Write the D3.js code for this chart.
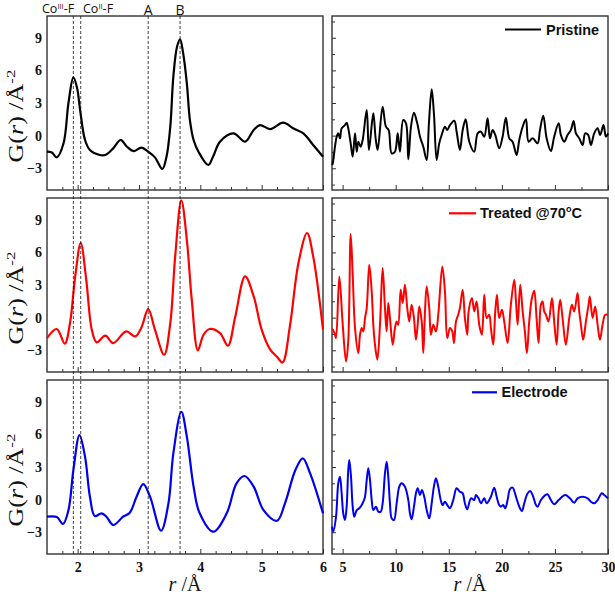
<!DOCTYPE html>
<html>
<head>
<meta charset="utf-8">
<script src="https://cdn.jsdelivr.net/npm/d3@7"></script>
<style>
  body { margin: 0; background: #fff; }
  svg { display: block; }
  .tick text { font-family: "Liberation Serif", "Times New Roman", serif; font-weight: bold; font-size: 14px; fill: #111; }
  .tick line { stroke: #333; stroke-width: 1; }
  .ax-title { font-family: "Liberation Serif", "Times New Roman", serif; font-size: 20px; fill: #111; }
  .legend { font-family: "Liberation Sans", Arial, sans-serif; font-weight: bold; font-size: 14.5px; fill: #111; }
  .marker { font-family: "Open Sans", "Noto Sans", sans-serif; fill: #111; }
</style>
</head>
<body>
<div id="chart"></div>
<script>
// ---- data: [r (Å), G(r)] ----
var pristineShort = [[1.50,-1.48],[1.58,-1.55],[1.66,-2.0],[1.77,-0.7],[1.85,3.0],[1.93,5.36],[1.99,4.4],[2.04,2.35],[2.12,-0.4],[2.20,-1.32],[2.36,-1.78],[2.45,-1.78],[2.58,-1.17],[2.70,-0.4],[2.80,-1.0],[2.91,-1.42],[3.04,-1.1],[3.15,-1.48],[3.26,-2.0],[3.38,-3.07],[3.45,-1.9],[3.51,0.82],[3.56,5.42],[3.62,8.17],[3.67,8.86],[3.72,7.57],[3.78,4.81],[3.83,1.43],[3.89,-0.4],[3.97,-1.48],[4.13,-2.7],[4.21,-1.9],[4.32,-0.56],[4.54,0.2],[4.73,-0.56],[4.87,0.52],[4.97,0.97],[5.14,0.6],[5.35,1.19],[5.52,0.65],[5.68,0.2],[5.84,-0.86],[6.0,-1.94]];

var treatedShort = [[1.50,-1.88],[1.66,-1.05],[1.79,-2.4],[1.875,-0.5],[1.96,3.79],[2.05,6.86],[2.14,3.48],[2.23,-1.11],[2.31,-2.28],[2.45,-1.66],[2.58,-2.34],[2.79,-1.27],[2.94,-1.73],[3.04,-0.9],[3.15,0.79],[3.26,-1.11],[3.41,-3.41],[3.51,-0.5],[3.59,5.63],[3.69,10.78],[3.78,7.16],[3.86,1.65],[3.96,-3.01],[4.05,-1.6],[4.15,-1.05],[4.32,-1.42],[4.45,-2.58],[4.57,0.11],[4.73,3.79],[4.87,1.95],[5.0,-1.11],[5.14,-2.95],[5.25,-3.6],[5.34,-4.12],[5.46,-0.81],[5.60,5.02],[5.74,7.78],[5.84,5.63],[6.0,-1.11]];

var electrodeShort = [[1.50,-1.57],[1.66,-1.6],[1.76,-2.24],[1.85,-0.96],[1.93,2.72],[2.03,5.94],[2.12,3.95],[2.20,0.27],[2.28,-1.51],[2.39,-1.26],[2.47,-1.57],[2.58,-2.34],[2.74,-1.57],[2.85,-1.2],[2.96,0.27],[3.07,1.43],[3.18,0.27],[3.36,-2.86],[3.48,-0.34],[3.56,4.26],[3.69,8.08],[3.78,5.79],[3.89,1.19],[3.99,-1.26],[4.21,-2.95],[4.43,-1.26],[4.59,1.5],[4.72,2.17],[4.87,1.19],[5.03,-0.96],[5.25,-1.94],[5.38,-0.34],[5.55,2.72],[5.67,3.8],[5.79,2.41],[6.0,-1.26]];

var pristineLong = [[4.0,-2.7],[4.07,-2.55],[4.28,-1.02],[4.44,-0.10],[4.59,0.21],[4.75,-0.25],[4.91,0.67],[5.22,0.97],[5.38,1.19],[5.53,0.67],[5.76,-0.71],[5.95,-1.94],[6.17,0.21],[6.33,-1.48],[6.48,-0.56],[6.70,-1.02],[6.89,-0.40],[7.27,2.35],[7.48,-1.32],[7.89,2.05],[8.11,-0.25],[8.30,-1.32],[8.77,2.66],[9.08,0.82],[9.34,0.51],[9.62,-1.63],[9.93,-1.48],[10.19,0.21],[10.40,-1.48],[10.71,1.43],[10.97,1.13],[11.19,-2.18],[11.44,0.82],[11.72,2.11],[12.03,1.13],[12.29,-0.10],[12.60,-1.02],[12.92,-2.24],[13.13,1.13],[13.39,4.26],[13.60,2.05],[13.86,-2.24],[14.10,-0.71],[14.33,0.06],[14.64,0.82],[14.86,0.51],[15.11,0.97],[15.52,1.37],[15.74,0.36],[16.05,-1.32],[16.31,0.51],[16.59,1.50],[16.93,-0.56],[17.40,-1.48],[17.72,0.21],[18.03,0.36],[18.34,-0.10],[18.66,1.59],[18.88,-0.25],[19.13,0.51],[19.38,0.06],[19.75,-1.17],[20.07,-0.10],[20.38,1.65],[20.70,-0.25],[21.01,-0.56],[21.39,-1.78],[21.64,-0.40],[21.96,0.82],[22.27,1.50],[22.52,-0.56],[22.90,-0.25],[23.37,-0.71],[23.59,0.51],[23.90,1.83],[24.22,-0.25],[24.62,-1.42],[24.93,-0.10],[25.35,1.13],[25.56,0.06],[25.87,-0.56],[26.19,0.06],[26.50,0.51],[26.76,1.34],[26.98,0.21],[27.29,-0.25],[27.61,-0.86],[27.85,0.21],[28.13,0.06],[28.39,-0.86],[28.70,0.21],[29.02,0.67],[29.26,0.06],[29.58,0.97],[29.80,-0.10],[30.0,0.2]];

var treatedLong = [[4.0,-1.11],[4.07,-1.11],[4.28,-1.57],[4.38,-1.88],[4.69,3.79],[5.01,-0.65],[5.32,-4.03],[5.53,-2.19],[5.76,7.69],[5.95,3.94],[6.17,-0.96],[6.48,-3.26],[6.64,-1.57],[6.80,-0.96],[6.95,-1.27],[7.11,-0.04],[7.27,0.88],[7.51,4.86],[7.74,2.41],[7.89,-0.65],[8.05,-2.49],[8.27,-3.87],[8.52,-0.65],[8.77,4.56],[8.99,0.88],[9.15,-1.27],[9.30,1.34],[9.46,-0.04],[9.72,-2.49],[9.93,-0.96],[10.09,-0.35],[10.24,-0.65],[10.47,2.56],[10.66,1.34],[10.87,3.02],[11.09,0.88],[11.28,-0.35],[11.50,1.19],[11.72,-0.04],[11.91,-2.03],[12.07,-0.65],[12.22,1.03],[12.45,-0.35],[12.60,-3.26],[12.76,0.57],[12.92,2.87],[13.16,0.88],[13.32,-1.57],[13.54,-0.65],[13.79,-1.27],[14.01,0.27],[14.39,4.71],[14.64,2.41],[14.86,-1.88],[15.11,-0.96],[15.33,-1.27],[15.49,-2.34],[15.68,-0.35],[15.89,0.27],[16.05,0.88],[16.31,2.56],[16.52,-0.04],[16.74,-1.57],[16.87,0.57],[17.18,1.80],[17.40,0.57],[17.62,1.49],[17.87,-0.65],[18.12,-1.57],[18.34,2.11],[18.57,-0.04],[18.81,0.27],[18.97,-0.96],[19.19,-2.49],[19.38,0.57],[19.54,2.11],[19.75,-0.04],[20.01,0.73],[20.22,-0.35],[20.54,-2.34],[20.85,1.19],[21.17,3.49],[21.33,1.49],[21.49,-0.65],[21.73,3.02],[21.96,0.57],[22.17,-1.27],[22.36,-3.26],[22.58,-0.35],[22.83,1.80],[23.05,2.47],[23.27,-0.04],[23.46,-2.34],[23.68,1.19],[23.84,1.49],[23.99,0.57],[24.15,0.27],[24.40,-0.35],[24.72,1.80],[24.93,-0.35],[25.16,-2.49],[25.35,0.57],[25.50,1.65],[25.72,-0.04],[26.03,-2.49],[26.35,-0.04],[26.60,1.19],[26.82,0.57],[27.13,2.26],[27.29,0.57],[27.45,-0.65],[27.66,-2.03],[27.92,-0.35],[28.17,1.19],[28.29,1.95],[28.55,-0.04],[28.79,1.03],[29.02,-0.65],[29.24,-2.03],[29.49,-0.65],[29.74,0.27],[30.0,0.27]];

var electrodeLong = [[4.0,-2.49],[4.12,-2.95],[4.38,-1.57],[4.59,1.50],[4.75,2.11],[4.91,0.58],[5.06,-1.26],[5.22,-1.88],[5.38,-0.65],[5.53,2.72],[5.63,3.64],[5.79,2.11],[5.95,-0.65],[6.10,-1.57],[6.33,-0.96],[6.57,-0.80],[6.80,-0.50],[6.95,-0.19],[7.11,0.27],[7.27,1.80],[7.42,2.88],[7.58,1.80],[7.74,-0.04],[7.89,-0.96],[8.14,-0.65],[8.36,-1.11],[8.59,-1.11],[8.77,-0.34],[8.99,2.42],[9.15,3.49],[9.30,2.11],[9.46,-0.34],[9.62,-1.72],[9.84,-1.88],[10.09,-0.34],[10.34,1.19],[10.56,1.50],[10.87,1.19],[11.19,-0.04],[11.34,-1.26],[11.50,-1.81],[11.72,-0.65],[11.91,0.58],[12.07,1.04],[12.29,0.42],[12.47,0.88],[12.69,0.27],[12.92,-0.96],[13.16,-1.72],[13.39,-0.34],[13.60,1.19],[13.79,1.96],[14.01,1.19],[14.24,-0.04],[14.42,-0.50],[14.64,-0.19],[14.86,-0.50],[15.11,-0.80],[15.42,-0.04],[15.74,1.04],[16.05,0.73],[16.31,0.58],[16.52,-0.34],[16.74,-0.90],[17.09,0.12],[17.40,-0.04],[17.56,0.42],[17.81,0.12],[18.03,-0.34],[18.34,0.12],[18.57,-0.34],[18.97,0.27],[19.28,1.10],[19.51,0.27],[19.75,-0.50],[19.91,-0.65],[20.13,-0.50],[20.32,-0.80],[20.54,-0.04],[20.76,0.95],[21.01,1.10],[21.33,0.27],[21.64,-0.65],[21.89,-1.05],[22.11,-0.34],[22.43,0.58],[22.67,0.79],[22.90,0.42],[23.21,-0.50],[23.37,-0.65],[23.68,-0.04],[24.09,0.42],[24.31,0.49],[24.62,-0.04],[24.93,-0.43],[25.35,-0.04],[25.97,0.42],[26.41,0.12],[26.82,-0.28],[27.13,0.12],[27.61,0.27],[28.08,0.12],[28.39,-0.19],[28.70,-0.34],[29.02,-0.04],[29.42,0.58],[29.64,0.42],[30.0,0.12]];

var seriesNames = ["Pristine", "Treated @70", "Electrode"];
var yTickLabels = [-3, 0, 3, 6, 9];
var leftXTicks = [2, 3, 4, 5, 6];
var rightXTicks = [5, 10, 15, 20, 25, 30];
var markerR = [1.93, 2.05, 3.15, 3.67];

// ---- layout ----
var W = 615, H = 597;
var panelTops = [16, 198, 380], panelH = 174;
var colors = ["#000000", "#ff0000", "#0000ee"];
var legendPos = [ // line start, line end, text x, y (relative to panel top)
  [505, 541, 546, 13.5],
  [449, 476, 480, 15.3],
  [472, 497, 501.5, 12.3]
];

var svg = d3.select("#chart").append("svg")
  .attr("width", W)
  .attr("height", H);

var xL = d3.scaleLinear().domain([1.5, 6]).range([47, 323]);
var xR = d3.scaleLinear().domain([4, 30]).range([332, 608]);

var line = function(x, y) {
  return d3.line()
    .x(function(d) { return x(d[0]); })
    .y(function(d) { return y(d[1]); })
    .curve(d3.curveCatmullRom.alpha(0.5));
};

var shortSets = [pristineShort, treatedShort, electrodeShort];
var longSets = [pristineLong, treatedLong, electrodeLong];

//------------------------------------------------------------------------//
// panels
panelTops.forEach(function(top, i) {
  var y = d3.scaleLinear().domain([-5, 11]).range([top + panelH, top]);
  var bottom = top + panelH;
  var last = i === panelTops.length - 1;

  // left panel x ticks (0.25 minor, 1 major)
  svg.append("g")
    .attr("transform", "translate(0," + bottom + ")")
    .call(d3.axisBottom(xL)
      .tickValues(d3.range(1.75, 6, 0.25).filter(function(v) { return v % 1 !== 0; }))
      .tickSize(-3).tickFormat(""))
    .call(function(g) { g.select(".domain").remove(); });
  svg.append("g")
    .attr("transform", "translate(0," + bottom + ")")
    .call(d3.axisBottom(xL)
      .tickValues(leftXTicks)
      .tickSize(-5).tickPadding(8)
      .tickFormat(last ? d3.format("d") : ""))
    .call(function(g) { g.select(".domain").remove(); });

  // right panel x ticks (every 2.5)
  svg.append("g")
    .attr("transform", "translate(0," + bottom + ")")
    .call(d3.axisBottom(xR)
      .tickValues([7.5, 12.5, 17.5, 22.5, 27.5])
      .tickSize(-3).tickFormat(""))
    .call(function(g) { g.select(".domain").remove(); });
  svg.append("g")
    .attr("transform", "translate(0," + bottom + ")")
    .call(d3.axisBottom(xR)
      .tickValues(rightXTicks)
      .tickSize(-5).tickPadding(8)
      .tickFormat(last ? d3.format("d") : ""))
    .call(function(g) { g.select(".domain").remove(); });

  // left y labels
  svg.append("g")
    .attr("transform", "translate(" + xL.range()[0] + ",0)")
    .call(d3.axisLeft(y).tickValues(yTickLabels).tickSize(0).tickPadding(5))
    .call(function(g) { g.select(".domain").remove(); });

  // right panel y ticks (inside, no labels)
  svg.append("g")
    .attr("transform", "translate(" + xR.range()[0] + ",0)")
    .call(d3.axisRight(y).tickValues([-4.5, -1.5, 1.5, 4.5, 7.5, 10.5]).tickSize(3).tickFormat(""))
    .call(function(g) { g.select(".domain").remove(); });
  svg.append("g")
    .attr("transform", "translate(" + xR.range()[0] + ",0)")
    .call(d3.axisRight(y).tickValues(yTickLabels).tickSize(4).tickFormat(""))
    .call(function(g) { g.select(".domain").remove(); });

  // frames
  [xL, xR].forEach(function(x) {
    svg.append("rect")
      .attr("x", x.range()[0]).attr("y", top)
      .attr("width", x.range()[1] - x.range()[0])
      .attr("height", panelH)
      .attr("fill", "none")
      .attr("stroke", "#333")
      .attr("stroke-width", 1.4);
  });

  // curves
  svg.append("path")
    .datum(shortSets[i])
    .attr("fill", "none")
    .attr("stroke", colors[i])
    .attr("stroke-width", 2.2)
    .attr("stroke-linejoin", "round")
    .attr("d", line(xL, y));
  svg.append("path")
    .datum(longSets[i])
    .attr("fill", "none")
    .attr("stroke", colors[i])
    .attr("stroke-width", 2)
    .attr("stroke-linejoin", "round")
    .attr("d", line(xR, y));

  // y title
  var yt = svg.append("text")
    .attr("class", "ax-title")
    .attr("text-anchor", "middle")
    .attr("transform", "translate(23," + (top + 100) + ") rotate(-90) scale(1.3,1)");
  yt.append("tspan").text("G(");
  yt.append("tspan").style("font-style", "italic").text("r");
  yt.append("tspan").text(") /Å");
  yt.append("tspan").attr("dy", -8).style("font-size", "13px").text("-2");

  // legend
  var lp = legendPos[i];
  svg.append("line")
    .attr("x1", lp[0]).attr("x2", lp[1])
    .attr("y1", top + lp[3]).attr("y2", top + lp[3])
    .attr("stroke", colors[i]).attr("stroke-width", 2.2);
  var lt = svg.append("text")
    .attr("class", "legend")
    .attr("x", lp[2]).attr("y", top + lp[3] + 5)
    .text(seriesNames[i]);
  if (i === 1) {
    lt.append("tspan").attr("dy", -6).style("font-size", "9px").text("o");
    lt.append("tspan").attr("dy", 6).text("C");
  }
});
//------------------------------------------------------------------------//

// dashed reference lines through all left panels
svg.selectAll(".ref")
  .data(markerR)
  .enter()
  .append("line")
  .attr("x1", function(d) { return xL(d); })
  .attr("x2", function(d) { return xL(d); })
  .attr("y1", panelTops[0])
  .attr("y2", panelTops[2] + panelH)
  .attr("stroke", "#111")
  .attr("stroke-width", 0.8)
  .attr("stroke-dasharray", "3,2");

// marker labels
function coLabel(x, roman) {
  var t = svg.append("text").attr("class", "marker")
    .attr("x", x).attr("y", 12.5).style("font-size", "12.5px");
  t.append("tspan").text("Co");
  t.append("tspan").attr("dy", -4).style("font-size", "7.5px").text(roman);
  t.append("tspan").attr("dy", 4).text("-F");
}
coLabel(42, "III");
coLabel(83, "II");
svg.append("text").attr("class", "marker").attr("text-anchor", "middle")
  .attr("x", xL(markerR[2])).attr("y", 14.5).style("font-size", "14px").text("A");
svg.append("text").attr("class", "marker").attr("text-anchor", "middle")
  .attr("x", xL(markerR[3])).attr("y", 14.5).style("font-size", "14px").text("B");

// x titles
[xL, xR].forEach(function(x) {
  var t = svg.append("text")
    .attr("class", "ax-title")
    .attr("text-anchor", "middle")
    .attr("x", (x.range()[0] + x.range()[1]) / 2)
    .attr("y", 591);
  t.append("tspan").style("font-style", "italic").text("r");
  t.append("tspan").text(" /Å");
});
</script>
</body>
</html>
